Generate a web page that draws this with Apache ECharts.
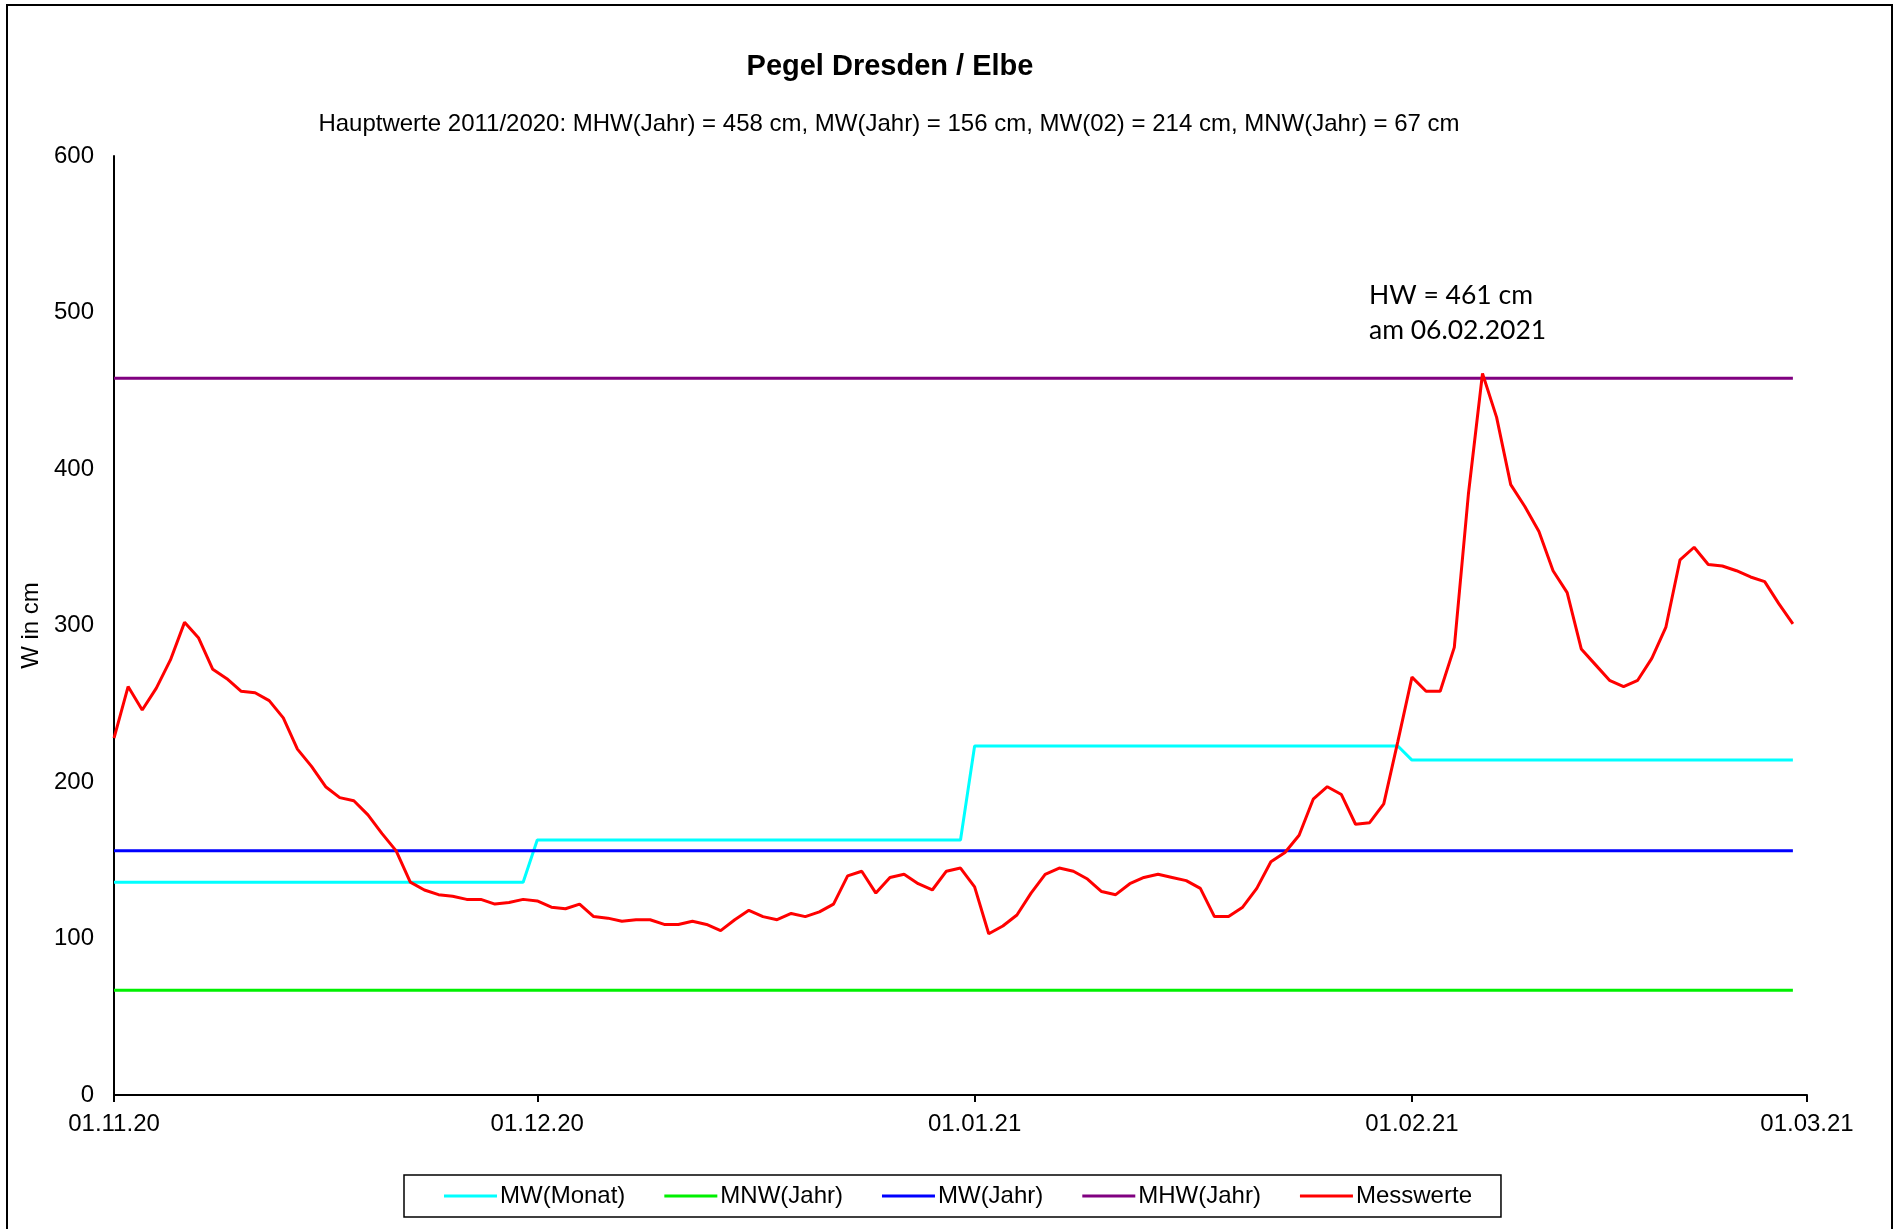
<!DOCTYPE html>
<html>
<head>
<meta charset="utf-8">
<title>Pegel Dresden / Elbe</title>
<script src="https://cdn.jsdelivr.net/npm/echarts@6/dist/echarts.min.js"></script>
<style>
  html, body { margin: 0; padding: 0; background: #fff; }
  #chart { width: 1898px; height: 1229px; }
</style>
</head>
<body>
<div id="chart"></div>
<script>
// Pegel Dresden / Elbe, Messwerte 01.11.2020 - 28.02.2021 (Tageswerte, cm)

const FONT = 'Liberation Sans, Arial, sans-serif';

// axis runs 01.11.20 .. 01.03.21; one category per day
const startDate = new Date(2020, 10, 1);
const dayCount = 121;
const days = [];
for (let i = 0; i < dayCount; i++) {
    const d = new Date(startDate.getFullYear(), startDate.getMonth(), startDate.getDate() + i);
    const dd = String(d.getDate()).padStart(2, '0');
    const mm = String(d.getMonth() + 1).padStart(2, '0');
    const yy = String(d.getFullYear()).slice(2);
    days.push(dd + '.' + mm + '.' + yy);
}

// Hauptwerte 2011/2020
const MHW_JAHR = 458;
const MW_JAHR = 156;
const MNW_JAHR = 67;

// monthly means (Nov, Dez, Jan, Feb) and month lengths
const mwMonat = [136, 163, 223, 214];
const monthDays = [30, 31, 31, 28];

// daily readings, 01.11.20 .. 28.02.21
const messwerte = [
    228, 261, 246, 260, 278, 302, 292, 272, 266, 258,
    257, 252, 241, 221, 210, 197, 190, 188, 179, 167,
    156, 136, 131, 128, 127, 125, 125, 122, 123, 125,
    124, 120, 119, 122, 114, 113, 111, 112, 112, 109,
    109, 111, 109, 105, 112, 118, 114, 112, 116, 114,
    117, 122, 140, 143, 129, 139, 141, 135, 131, 143,
    145, 133, 103, 108, 115, 129, 141, 145, 143, 138,
    130, 128, 135, 139, 141, 139, 137, 132, 114, 114,
    120, 132, 149, 155, 166, 189, 197, 192, 173, 174,
    186, 226, 267, 258, 258, 286, 384, 461, 433, 390,
    376, 360, 335, 321, 285, 275, 265, 261, 265, 279,
    299, 342, 350, 339, 338, 335, 331, 328, 314, 301
];

const n = messwerte.length;
const mwMonatDaily = [];
mwMonat.forEach((v, m) => { for (let k = 0; k < monthDays[m]; k++) mwMonatDaily.push(v); });
const mnwLine = new Array(n).fill(MNW_JAHR);
const mwLine = new Array(n).fill(MW_JAHR);
const mhwLine = new Array(n).fill(MHW_JAHR);

const isMonthStart = (idx, val) => val.startsWith('01.');

const chart = echarts.init(document.getElementById('chart'), null, { renderer: 'canvas' });

function lineSeries(name, data, color, z) {
    return {
        name, type: 'line', data, z,
        symbol: 'none',
        lineStyle: { color, width: 3 },
        itemStyle: { color },
        emphasis: { disabled: true },
        animation: false,
    };
}

chart.setOption({
    backgroundColor: '#fff',
    animation: false,
    title: [
        {
            text: 'Pegel Dresden / Elbe',
            left: 885, top: 47, textAlign: 'center',
            textStyle: { fontFamily: FONT, fontSize: 29, fontWeight: 'bold', color: '#000' },
        },
        {
            text: 'Hauptwerte 2011/2020: MHW(Jahr) = 458 cm, MW(Jahr) = 156 cm, MW(02) = 214 cm, MNW(Jahr) = 67 cm',
            left: 884, top: 107, textAlign: 'center',
            textStyle: { fontFamily: FONT, fontSize: 24, fontWeight: 'normal', color: '#000' },
        },
    ],
    grid: { left: 114, right: 91, top: 156, bottom: 134, containLabel: false },
    legend: {
        left: 404, top: 1175,
        padding: [9, 29, 9, 40],
        borderColor: '#000', borderWidth: 1.5,
        itemGap: 39, itemWidth: 53, itemHeight: 3,
        icon: 'rect',
        selectedMode: false,
        textStyle: { fontFamily: FONT, fontSize: 24, color: '#000', padding: [0, 0, 0, -2] },
        data: ['MW(Monat)', 'MNW(Jahr)', 'MW(Jahr)', 'MHW(Jahr)', 'Messwerte'],
    },
    xAxis: {
        type: 'category',
        data: days,
        boundaryGap: false,
        axisLine: { lineStyle: { color: '#000', width: 2 } },
        axisTick: { show: true, interval: isMonthStart, length: 7, lineStyle: { color: '#000', width: 2 } },
        axisLabel: { interval: isMonthStart, margin: 17, fontFamily: FONT, fontSize: 24, color: '#000' },
        splitLine: { show: false },
    },
    yAxis: {
        type: 'value',
        min: 0, max: 600, interval: 100,
        name: 'W in cm',
        nameLocation: 'middle',
        nameRotate: 90,
        nameGap: 71,
        nameTextStyle: { fontFamily: FONT, fontSize: 24, color: '#000' },
        axisLine: { show: true, lineStyle: { color: '#000', width: 2 } },
        axisTick: { show: false },
        axisLabel: { margin: 20, fontFamily: FONT, fontSize: 24, color: '#000' },
        splitLine: { show: false },
    },
    series: [
        lineSeries('MW(Monat)', mwMonatDaily, '#00FFFF', 2),
        lineSeries('MNW(Jahr)', mnwLine, '#00F000', 2),
        lineSeries('MW(Jahr)', mwLine, '#0000FF', 2),
        lineSeries('MHW(Jahr)', mhwLine, '#800080', 2),
        lineSeries('Messwerte', messwerte, '#FF0000', 5),
    ],
    graphic: [
        {
            type: 'rect', silent: true, z: 100,
            shape: { x: 7, y: 5, width: 1885, height: 1300 },
            style: { fill: 'none', stroke: '#000', lineWidth: 2 },
        },
        {
            type: 'text', silent: true, z: 100,
            left: 1369, top: 278,
            style: {
                text: 'HW = 461 cm\nam 06.02.2021',
                fontFamily: 'Lato, Open Sans, sans-serif',
                fontSize: 26.5, lineHeight: 35, fill: '#000',
            },
        },
    ],
});
</script>
</body>
</html>
